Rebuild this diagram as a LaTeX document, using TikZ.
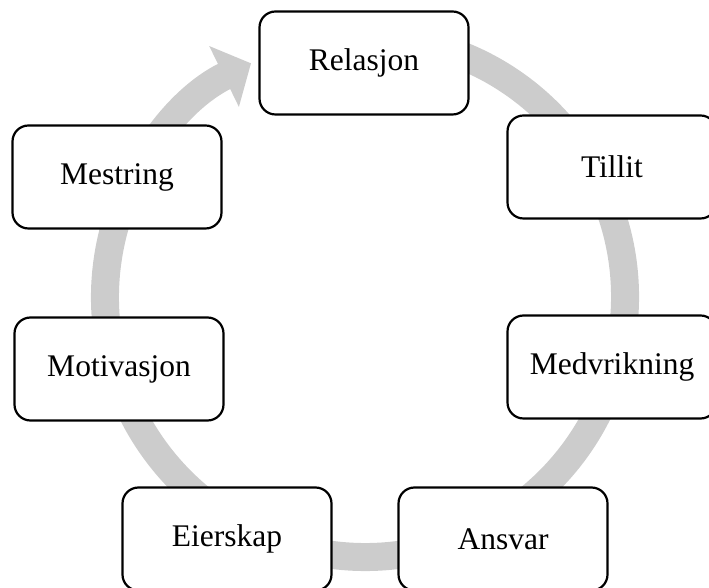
\documentclass[tikz,border=0pt]{standalone}
\usepackage{fontspec}
\setmainfont{Liberation Serif}
\usetikzlibrary{arrows.meta}
\begin{document}
\begin{tikzpicture}[x=1pt,y=1pt,
  stepbox/.style={draw=black, fill=white, line width=2.2pt, rounded corners=16pt,
    minimum width=209pt, minimum height=103pt, inner sep=0pt,
    font=\fontsize{31.5}{36}\selectfont},
  ring/.style={draw=gray!40, line width=28pt, -{Triangle[width=66pt,length=30pt]}}]
\useasboundingbox (0,0) rectangle (709,588);
\coordinate (c) at (365,291);
\draw[ring] ([shift={(80:260)}]c) arc[start angle=80, end angle=-244, radius=260];
\node[stepbox] (rel) at (364,525) {Relasjon};
\node[stepbox] (til) at (612,421) {Tillit};
\node[stepbox] (med) at (612,221) {Medvrikning};
\node[stepbox] (ans) at (503,49) {Ansvar};
\node[stepbox] (eie) at (227,49) {Eierskap};
\node[stepbox] (mot) at (119,219) {Motivasjon};
\node[stepbox] (mes) at (117,411) {Mestring};
\end{tikzpicture}
\end{document}
